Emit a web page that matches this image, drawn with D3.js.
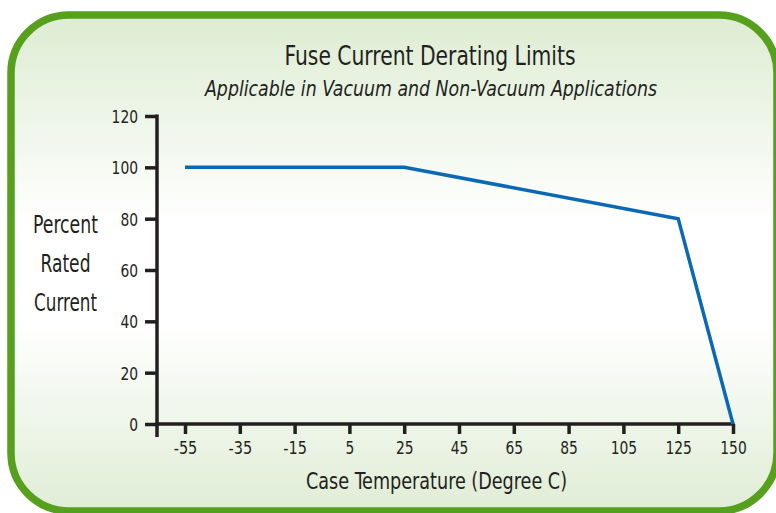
<!DOCTYPE html>
<html>
  <head>
    <title>fuse-derating</title>
    <style>
      html,
      body {
        padding: 0;
        margin: 0;
        background: #fff;
        font-family: 'DejaVu Sans Condensed', 'DejaVu Sans', sans-serif;
      }
      svg {
        display: block;
      }
    </style>
  </head>
  <body>
    <svg width="776" height="513"></svg>

    <script src="https://cdn.jsdelivr.net/npm/d3@7"></script>
    <script>
      // x categories (evenly spaced on the original chart)
      const temps = ['-55', '-35', '-15', '5', '25', '45', '65', '85', '105', '125', '150'];
      const yTicks = [0, 20, 40, 60, 80, 100, 120];
      // derating curve
      const curveTemps = ['-55', '25', '125', '150'];
      const curvePercent = [100, 100, 80, 0];

      const svg = d3.select('svg');
      const ink = '#231f20';
      const font = "'DejaVu Sans Condensed', 'DejaVu Sans', sans-serif";

      // background gradient
      const defs = svg.append('defs');
      const grad = defs
        .append('linearGradient')
        .attr('id', 'bg')
        .attr('x1', 0)
        .attr('y1', 0)
        .attr('x2', 0)
        .attr('y2', 1);
      grad.append('stop').attr('offset', '0%').attr('stop-color', '#ddecd2');
      grad.append('stop').attr('offset', '42%').attr('stop-color', '#ffffff');
      grad.append('stop').attr('offset', '62%').attr('stop-color', '#ffffff');
      grad.append('stop').attr('offset', '100%').attr('stop-color', '#e0edd6');

      // frame (right side sits on the page edge)
      svg
        .append('rect')
        .attr('x', 11)
        .attr('y', 15)
        .attr('width', 766)
        .attr('height', 496)
        .attr('rx', 58)
        .attr('ry', 58)
        .attr('fill', 'url(#bg)')
        .attr('stroke', '#56a01e')
        .attr('stroke-width', 7.5);

      const x = d3.scalePoint().domain(temps).range([185, 733]);
      const y = d3.scaleLinear().domain([0, 120]).range([424, 116]);

      // condensed width for numeric tick labels
      const tickW = (s) => s.replace('-', '').length * 8.8 + (s.startsWith('-') ? 6 : 0);

      // y axis
      const yAxis = svg
        .append('g')
        .attr('transform', 'translate(157,0)')
        .call(d3.axisLeft(y).tickValues(yTicks).tickSize(12).tickSizeOuter(0).tickPadding(7));
      yAxis.select('.domain').attr('d', 'M0,' + (y(120) - 1.5) + 'V437').attr('stroke', ink).attr('stroke-width', 3.5);
      yAxis.selectAll('.tick line').attr('stroke', ink).attr('stroke-width', 3.5);
      yAxis
        .selectAll('.tick text')
        .attr('fill', ink)
        .attr('dy', '0.36em')
        .attr('textLength', (d) => tickW(String(d)))
        .attr('lengthAdjust', 'spacingAndGlyphs')
        .style('font-size', '18px')
        .style('font-family', font);

      // x axis
      const xAxis = svg
        .append('g')
        .attr('transform', 'translate(0,' + y(0) + ')')
        .call(d3.axisBottom(x).tickSize(10).tickSizeOuter(0).tickPadding(7));
      xAxis
        .select('.domain')
        .attr('d', 'M155.25,0H' + (x('150') + 1.5))
        .attr('stroke', ink)
        .attr('stroke-width', 3.5);
      xAxis.selectAll('.tick line').attr('stroke', ink).attr('stroke-width', 3.5);
      xAxis
        .selectAll('.tick text')
        .attr('fill', ink)
        .attr('textLength', (d) => tickW(d))
        .attr('lengthAdjust', 'spacingAndGlyphs')
        .style('font-size', '18px')
        .style('font-family', font);

      // derating line
      const pts = curveTemps.map((t, i) => [x(t), y(curvePercent[i])]);
      svg
        .append('path')
        .attr('d', d3.line()(pts))
        .attr('fill', 'none')
        .attr('stroke', '#0b68b5')
        .attr('stroke-width', 3.5)
        .attr('stroke-linejoin', 'miter');

      // narrow label helper (reference uses a condensed face)
      function label(txt, cx, by, size, w, italic) {
        return svg
          .append('text')
          .attr('x', cx - w / 2)
          .attr('y', by)
          .attr('textLength', w)
          .attr('lengthAdjust', 'spacingAndGlyphs')
          .attr('fill', ink)
          .style('font-size', size + 'px')
          .style('font-family', font)
          .style('font-style', italic ? 'italic' : 'normal')
          .text(txt);
      }

      // titles
      label('Fuse Current Derating Limits', 430, 65, 27, 291);
      label('Applicable in Vacuum and Non-Vacuum Applications', 431, 96, 22, 452, true);

      // y label
      const yLab = ['Percent', 'Rated', 'Current'];
      const yLabW = [65, 50, 63];
      yLab.forEach((t, i) => label(t, 65.5, 233 + i * 39, 24, yLabW[i]));

      // x label
      label('Case Temperature (Degree C)', 436.5, 489, 23, 261);
    </script>
  </body>
</html>
